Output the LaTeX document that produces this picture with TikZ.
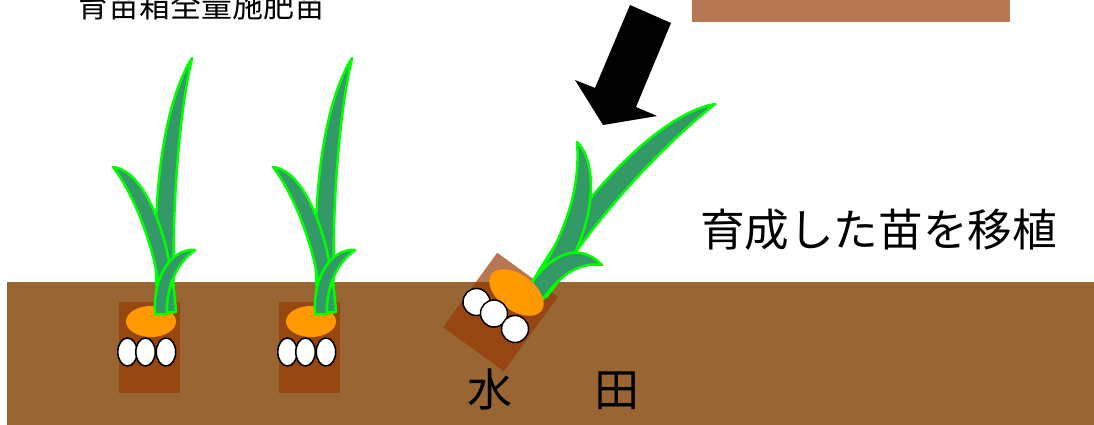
\documentclass[tikz,border=0pt]{standalone}
\usepackage{fontspec}
\setmainfont{Noto Sans CJK JP}
\definecolor{soil}{HTML}{996633}
\definecolor{potbrown}{RGB}{150,55,2}
\definecolor{fert}{HTML}{FF9900}
\definecolor{leafgreen}{HTML}{339966}
\definecolor{leafedge}{HTML}{00FF00}
\tikzset{
  leaf/.style={fill=leafgreen, draw=leafedge, line width=2.5pt, line join=round},
  pot/.style={fill=potbrown, fill opacity=0.68},
  fertilizer/.style={fill=fert},
  egg/.style={fill=white, draw=black, line width=1.5pt},
  jtext/.style={text=black, inner sep=0pt, anchor=base},
}
\begin{document}
\begin{tikzpicture}[x=1pt, y=-1pt]
\useasboundingbox (0,0) rectangle (1094,425);

% paddy soil
\fill[soil] (7,282) rectangle (1094,430);

% seedling block in the corner
\fill[pot] (692,-2) rectangle (1010,22);

% down arrow
\fill[black] (630,5) -- (671,23) -- (636,107) -- (657,116) -- (603,125)
  -- (575,80) -- (595,88) -- cycle;

% two upright seedlings
\foreach \dx in {0,160} {
  \begin{scope}[shift={(\dx,0)}]
    \fill[pot] (119,302) rectangle (180,393);
    \fill[fertilizer] (151,321.5) ellipse [x radius=25pt, y radius=15.5pt];
    \draw[egg] (127.5,352) ellipse [x radius=9.7pt, y radius=14pt];
    \draw[egg] (145.5,352) ellipse [x radius=9.7pt, y radius=14pt];
    \draw[egg] (166,352) ellipse [x radius=9.7pt, y radius=14pt];
    % tall leaf
    \draw[leaf] (158,312) .. controls (150,200) and (163,105) .. (192,58)
      .. controls (180,110) and (171,200) .. (174,312) -- cycle;
    % left leaf
    \draw[leaf] (113,167) .. controls (143,170) and (170,230) .. (176,312)
      -- (162,312) .. controls (158,250) and (133,193) .. (113,167) -- cycle;
    % short right leaf
    \draw[leaf] (195,250) .. controls (172,248) and (153,275) .. (155,314)
      -- (167,314) .. controls (166,285) and (178,262) .. (195,250) -- cycle;
  \end{scope}
}

% tilted seedling being transplanted
\fill[pot, shift={(500.5,312)}, rotate=-36] (-37.5,-46) rectangle (37.5,46);
\draw[leaf] (715,104) .. controls (658,114) and (578,200) .. (529,288)
  -- (546,297) .. controls (592,220) and (662,146) .. (715,104) -- cycle;
\draw[leaf] (577,142) .. controls (601,165) and (596,240) .. (546,297)
  -- (529,288) .. controls (564,240) and (581,190) .. (577,142) -- cycle;
\draw[leaf] (602,265) .. controls (578,240) and (548,255) .. (527,290)
  -- (543,299) .. controls (562,272) and (582,262) .. (602,265) -- cycle;
\fill[fertilizer, shift={(516.5,292.5)}, rotate=-36] (0,0) ellipse [x radius=31pt, y radius=18pt];
\draw[egg] (476.5,302) circle [radius=13.5pt];
\draw[egg] (494,313.5) circle [radius=13.5pt];
\draw[egg] (515,329) circle [radius=13.5pt];

% captions
\node[jtext, font=\fontsize{31}{31}\selectfont] (boxfert) at (201,18) {育苗箱全量施肥苗};
\node[jtext, font=\fontsize{44.6}{44.6}\selectfont] (transplant) at (878.5,246) {育成した苗を移植};
\node[jtext, font=\fontsize{45}{45}\selectfont] (paddy) at (553.5,406) {水\hspace{81.5pt}田};
\end{tikzpicture}
\end{document}
